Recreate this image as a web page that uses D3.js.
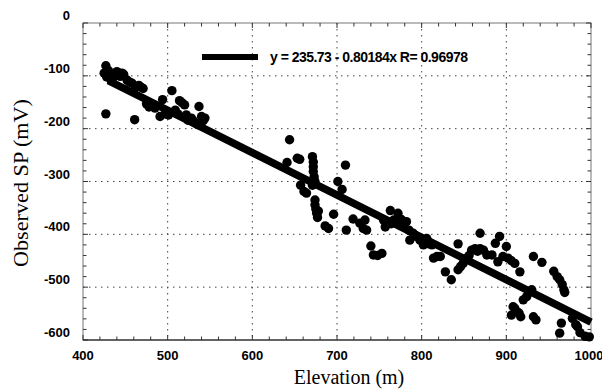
<!DOCTYPE html>
<html>
<head>
<meta charset="utf-8">
<script src="https://cdn.jsdelivr.net/npm/d3@7"></script>
<style>
  body { margin: 0; background: #fff; }
  svg { display: block; }
</style>
</head>
<body>
<div id="chart"></div>
<script>
// elevation (m) and observed SP (mV)
const elevation = [
  425, 427, 428, 430, 432, 433, 435, 438, 440, 444, 446, 448, 452, 455, 458, 462, 466, 469, 471,
  427, 461, 475, 478, 485, 491, 494, 497, 501, 505, 509, 512, 514, 517, 520, 522, 524, 528, 531,
  535, 537, 540, 542, 544,
  644, 641, 653, 656, 657, 661, 664, 671, 672, 672, 672, 673, 674, 671, 674, 674, 675, 676, 678,
  677, 686, 690, 696, 701, 706, 710, 711, 719,
  727, 731, 733, 735, 740, 743, 748, 753, 755, 757, 763, 764, 767, 772, 776, 782, 785, 786, 790,
  794, 798, 802, 806, 809, 812, 814, 818, 822,
  828, 835, 843, 843, 846, 849, 853, 856, 859, 863, 866, 869, 869, 873, 877, 883, 887, 890, 892,
  896, 900, 902, 906, 910, 916,
  906, 908, 910, 912, 915, 917, 920, 924, 927, 930, 932, 935, 932, 942, 956, 960, 963, 966, 968,
  969, 963, 965, 978, 982, 984, 987, 993, 998
];
const sp = [
  -95, -81, -102, -90, -98, -108, -104, -100, -92, -101, -95, -97, -108, -112, -114, -121, -118, -122, -124,
  -172, -183, -153, -159, -161, -177, -145, -172, -174, -128, -165, -172, -147, -151, -155, -174, -184, -180, -186,
  -192, -158, -177, -185, -180,
  -221, -264, -256, -258, -307, -319, -322, -253, -263, -272, -281, -291, -300, -307, -335, -344, -352, -360, -356,
  -368, -384, -389, -362, -300, -315, -269, -392, -371,
  -379, -389, -373, -392, -422, -439, -440, -436, -373, -386, -355, -380, -373, -360, -372, -376, -392, -411, -398,
  -404, -411, -420, -408, -418, -420, -445, -442, -442,
  -471, -486, -418, -467, -461, -455, -445, -440, -430, -427, -432, -427, -398, -430, -439, -439, -417, -452, -404,
  -442, -423, -445, -450, -455, -471,
  -553, -537, -540, -546, -549, -556, -524, -518, -510, -505, -556, -562, -442, -453, -470, -480, -486, -495, -505,
  -510, -587, -568, -559, -571, -575, -586, -593, -594
];

// least squares fit printed on the figure
const fitIntercept = 235.73;
const fitSlope = -0.80184;
const fitR = 0.96978;
const fitRange = [430, 1000];

const xTicks = [400, 500, 600, 700, 800, 900, 1000];
const yTicks = [0, -100, -200, -300, -400, -500, -600];

const width = 602;
const height = 390;
const margin = { top: 23, right: 11, bottom: 50, left: 83 };

const svg = d3.select('#chart')
  .append('svg')
  .attr('width', width)
  .attr('height', height);

const x = d3.scaleLinear().domain([400, 1000]).range([margin.left, width - margin.right]);
const y = d3.scaleLinear().domain([-600, 0]).range([height - margin.bottom, margin.top]);

const x0 = x.range()[0], x1 = x.range()[1];
const yb = y.range()[0], yt = y.range()[1];

// dotted grid
const grid = svg.append('g')
  .attr('stroke', '#444')
  .attr('stroke-width', 1)
  .attr('stroke-dasharray', '1.5,4.5');
grid.selectAll('.gx').data(xTicks.slice(1, -1)).enter()
  .append('line')
  .attr('x1', d => x(d)).attr('x2', d => x(d))
  .attr('y1', yt).attr('y2', yb);
grid.selectAll('.gy').data(yTicks.slice(1, -1)).enter()
  .append('line')
  .attr('x1', x0).attr('x2', x1)
  .attr('y1', d => y(d)).attr('y2', d => y(d));

// frame
svg.append('rect')
  .attr('x', x0).attr('y', yt)
  .attr('width', x1 - x0).attr('height', yb - yt)
  .attr('fill', 'none')
  .attr('stroke', '#777')
  .attr('stroke-width', 1);
svg.append('line')
  .attr('x1', x0).attr('x2', x1)
  .attr('y1', yb).attr('y2', yb)
  .attr('stroke', '#111')
  .attr('stroke-width', 1.2);

// small inward ticks on all four sides
const minorX = d3.range(400, 1001, 20);
const minorY = d3.range(-600, 1, 20);
const ticks = svg.append('g').attr('stroke', '#333').attr('stroke-width', 1);
minorX.forEach(v => {
  const len = v % 100 === 0 ? 5 : 3.5;
  ticks.append('line').attr('x1', x(v)).attr('x2', x(v)).attr('y1', yb).attr('y2', yb - len);
  ticks.append('line').attr('x1', x(v)).attr('x2', x(v)).attr('y1', yt).attr('y2', yt + len);
});
minorY.forEach(v => {
  const len = v % 100 === 0 ? 5 : 3.5;
  ticks.append('line').attr('x1', x0).attr('x2', x0 + len).attr('y1', y(v)).attr('y2', y(v));
  ticks.append('line').attr('x1', x1).attr('x2', x1 - len).attr('y1', y(v)).attr('y2', y(v));
});

// tick labels
const tickFont = '"Liberation Sans Narrow", "Liberation Sans", Arial, sans-serif';
svg.append('g').selectAll('text').data(xTicks).enter()
  .append('text')
  .attr('x', d => Math.min(x(d), width - 13))
  .attr('y', yb + 20)
  .attr('text-anchor', 'middle')
  .attr('font-family', tickFont)
  .attr('font-weight', 'bold')
  .attr('font-size', 13)
  .text(d => d);
svg.append('g').selectAll('text').data(yTicks).enter()
  .append('text')
  .attr('x', x0 - 13)
  .attr('y', d => y(d) - 3)
  .attr('text-anchor', 'end')
  .attr('font-family', tickFont)
  .attr('font-weight', 'bold')
  .attr('font-size', 13)
  .text(d => d);

// axis titles
svg.append('text')
  .attr('x', 349)
  .attr('y', 384)
  .attr('text-anchor', 'middle')
  .attr('font-family', '"Liberation Serif", "Times New Roman", serif')
  .attr('font-size', 20)
  .text('Elevation (m)');
svg.append('text')
  .attr('transform', `translate(28, 183) rotate(-90)`)
  .attr('text-anchor', 'middle')
  .attr('font-family', '"Liberation Serif", "Times New Roman", serif')
  .attr('font-size', 22)
  .attr('textLength', 168)
  .attr('lengthAdjust', 'spacingAndGlyphs')
  .text('Observed SP (mV)');

// regression line
const line = d3.line()
  .x(d => x(d))
  .y(d => y(fitIntercept + fitSlope * d));
svg.append('path')
  .datum(fitRange)
  .attr('d', line)
  .attr('fill', 'none')
  .attr('stroke', '#000')
  .attr('stroke-width', 7.5);

// observed points
svg.append('g').selectAll('circle').data(elevation).enter()
  .append('circle')
  .attr('cx', d => x(d))
  .attr('cy', (d, i) => y(sp[i]))
  .attr('r', 4.7)
  .attr('fill', '#000');

// legend
svg.append('line')
  .attr('x1', 202).attr('x2', 258)
  .attr('y1', 57).attr('y2', 57)
  .attr('stroke', '#000')
  .attr('stroke-width', 6);
svg.append('text')
  .attr('x', 270)
  .attr('y', 62)
  .attr('font-family', tickFont)
  .attr('font-weight', 'bold')
  .attr('font-size', 14)
  .attr('textLength', 198)
  .attr('lengthAdjust', 'spacing')
  .text(`y = ${fitIntercept} - ${-fitSlope}x R= ${fitR}`);
</script>
</body>
</html>
